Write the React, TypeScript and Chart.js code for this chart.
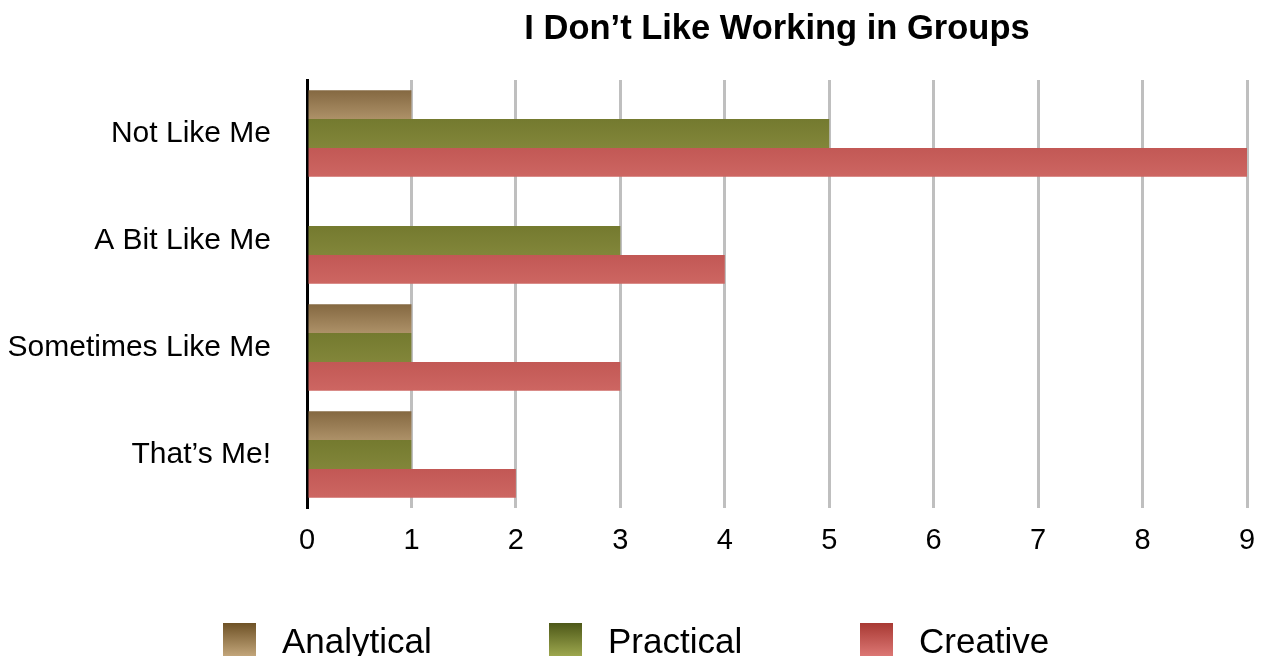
import React, { useEffect, useRef } from "react";
import { Chart, registerables } from "chart.js";

Chart.register(...registerables);

const TITLE = "I Don\u2019t Like Working in Groups";
const categories = ["Not Like Me", "A Bit Like Me", "Sometimes Like Me", "That\u2019s Me!"];
const seriesNames = ["Analytical", "Practical", "Creative"];
const analytical = [1, 0, 1, 1];
const practical = [5, 3, 1, 1];
const creative = [9, 4, 3, 2];
const xTicks = [0, 1, 2, 3, 4, 5, 6, 7, 8, 9];

// bar gradient (top -> bottom) and legend gradient (top -> bottom)
const barGrad = [
  ["#846841", "#ad9168"],
  ["#747a2f", "#82863a"],
  ["#c25855", "#cd6662"],
];
const legendGrad = [
  ["#6e5226", "#c2a57a"],
  ["#4d5818", "#9da74e"],
  ["#a83933", "#dc7774"],
];

const FONT = "'Liberation Sans', Arial, Helvetica, sans-serif";
const CAT_PCT = 0.81;

function makeBg(di: number) {
  return (c: any) => {
    const chart = c.chart;
    const y = chart.scales && chart.scales.y;
    if (!y || c.type !== "data") return barGrad[di][0];
    const center = y.getPixelForValue(c.dataIndex);
    const band = (y.bottom - y.top) / categories.length;
    const group = band * CAT_PCT;
    const th = group / 3;
    const top = center - group / 2 + di * th;
    if (!isFinite(top) || !isFinite(th) || th <= 0) return barGrad[di][0];
    const g = chart.ctx.createLinearGradient(0, top, 0, top + th);
    g.addColorStop(0, barGrad[di][0]);
    g.addColorStop(1, barGrad[di][1]);
    return g;
  };
}

const decorPlugin = {
  id: "decor",
  afterDraw(chart: any) {
    const ctx = chart.ctx;
    const area = chart.chartArea;
    ctx.save();
    // title
    ctx.fillStyle = "#000";
    ctx.font = `bold 34.5px ${FONT}`;
    ctx.textAlign = "center";
    ctx.textBaseline = "alphabetic";
    ctx.fillText(TITLE, (area.left + area.right) / 2, 39);
    // legend
    const boxX = [223, 549, 860];
    const boxY = 623;
    const box = 33;
    ctx.font = `35px ${FONT}`;
    ctx.textAlign = "left";
    chart.data.datasets.forEach((ds: any, i: number) => {
      const g = ctx.createLinearGradient(0, boxY, 0, boxY + box);
      g.addColorStop(0, legendGrad[i][0]);
      g.addColorStop(1, legendGrad[i][1]);
      ctx.fillStyle = g;
      ctx.fillRect(boxX[i], boxY, box, box);
      ctx.fillStyle = "#000";
      ctx.fillText(ds.label, boxX[i] + 59, 653);
    });
    ctx.restore();
  },
};

export default function App() {
  const ref = useRef<HTMLCanvasElement>(null);
  useEffect(() => {
    if (!ref.current) return;
    const seriesData = [analytical, practical, creative];
    const chart = new Chart(ref.current, {
      type: "bar",
      data: {
        labels: categories,
        datasets: seriesNames.map((name, i) => ({
          label: name,
          data: seriesData[i],
          backgroundColor: makeBg(i),
          borderWidth: 0,
          categoryPercentage: CAT_PCT,
          barPercentage: 1,
        })),
      },
      options: {
        indexAxis: "y",
        animation: false,
        responsive: false,
        maintainAspectRatio: false,
        layout: { padding: { top: 80, right: 14, left: 0, bottom: 0 } },
        plugins: {
          legend: { display: false },
          title: { display: false },
          tooltip: { enabled: false },
        },
        scales: {
          x: {
            min: 0,
            max: 9,
            afterBuildTicks: (s: any) => {
              s.ticks = xTicks.map((v) => ({ value: v }));
            },
            afterFit: (s: any) => {
              s.height = 148;
              s.paddingLeft = 0;
              s.paddingRight = 0;
            },
            grid: { color: "#bfbfbf", lineWidth: 3, drawTicks: false },
            border: { display: false },
            ticks: {
              color: "#000",
              font: { family: FONT, size: 29 },
              padding: 16,
              maxRotation: 0,
            },
          },
          y: {
            afterFit: (s: any) => {
              s.width = 307;
              s.paddingTop = 0;
              s.paddingBottom = 0;
            },
            grid: { display: false, drawTicks: false },
            border: { display: true, color: "#000", width: 3 },
            ticks: {
              color: "#000",
              font: { family: FONT, size: 30 },
              padding: 36,
            },
          },
        },
      },
      plugins: [decorPlugin],
    } as any);
    return () => chart.destroy();
  }, []);
  return (
    <div style={{ position: "fixed", left: 0, top: 0, width: 1261, height: 656, background: "#fff" }}>
      <canvas ref={ref} width={1261} height={656} />
    </div>
  );
}
